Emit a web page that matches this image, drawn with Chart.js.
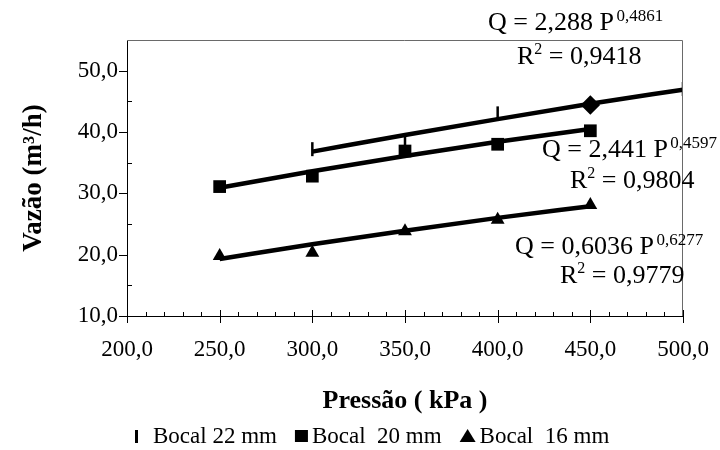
<!DOCTYPE html>
<html>
<head>
<meta charset="utf-8">
<script src="https://cdn.jsdelivr.net/npm/chart.js@4.4.1/dist/chart.umd.min.js"></script>
<style>
  html, body { margin: 0; padding: 0; background: #fff; }
  #wrap { width: 720px; height: 450px; }
</style>
</head>
<body>
<div id="wrap"><canvas id="grafico"></canvas></div>
<script>
// pontos medidos
const pressao = [250, 300, 350, 400, 450];
const pressao22 = [300, 350, 400, 450, 500];
const vazao22 = [37.2, 38.0, 43.2, 44.4, 47.0];
const vazao20 = [31.1, 32.8, 36.9, 38.0, 40.2];
const vazao16 = [19.8, 20.3, 23.8, 25.7, 28.1];
const estilo22 = ['line', 'line', 'line', 'rectRot', 'line'];

// linhas de tendencia
const ajuste22 = [36.8, 39.5, 42.1, 44.6, 46.9];
const ajuste20 = [30.9, 33.6, 36.1, 38.4, 40.5];
const ajuste16 = [19.3, 21.7, 23.9, 26.0, 27.9];

// eixos
const xTicks = [200, 250, 300, 350, 400, 450, 500];
const yTicks = [10, 20, 30, 40, 50];

// textos
const legendas = ['Bocal 22 mm', 'Bocal  20 mm', 'Bocal  16 mm'];
const equacoes = [
  {q: 'Q = 2,288 P ', exp: '0,4861', r2: ' = 0,9418'},
  {q: 'Q = 2,441 P ', exp: '0,4597', r2: ' = 0,9804'},
  {q: 'Q = 0,6036 P ', exp: '0,6277', r2: ' = 0,9779'}
];

const serif = "'Liberation Serif', 'Times New Roman', serif";
const fmt = v => v.toFixed(1).replace('.', ',');
const pts = (xs, ys) => xs.map((x, i) => ({x: x, y: ys[i]}));

// onde ficam as equacoes (em unidades do grafico)
const posEq = [
  {x: 394.8, y: 56.7, rx: 410.4, ry: 51.1},
  {x: 423.9, y: 35.85, rx: 439.0, ry: 30.8},
  {x: 409.4, y: 20.1, rx: 433.6, ry: 15.4}
];

const extras = {
  id: 'extras',
  afterDraw(chart) {
    const ctx = chart.ctx;
    const a = chart.chartArea;
    const sx = chart.scales.x, sy = chart.scales.y;
    ctx.save();
    // moldura
    ctx.strokeStyle = '#6a6a6a';
    ctx.lineWidth = 1;
    ctx.beginPath();
    ctx.moveTo(a.left, a.top + 0.5);
    ctx.lineTo(a.right - 0.5, a.top + 0.5);
    ctx.lineTo(a.right - 0.5, a.bottom);
    ctx.stroke();

    // marcas dos eixos
    ctx.strokeStyle = '#000';
    ctx.beginPath();
    for (let v = 200; v <= 500; v += 10) {
      const px = Math.round(sx.getPixelForValue(v)) + 0.5;
      if (v % 50 === 0) {
        ctx.moveTo(px, a.bottom - 6);
        ctx.lineTo(px, a.bottom + 7);
      } else {
        ctx.moveTo(px, a.bottom - 4);
        ctx.lineTo(px, a.bottom);
      }
    }
    for (let v = 10; v < 55; v += 5) {
      const py = Math.round(sy.getPixelForValue(v)) + 0.5;
      if (v % 10 === 0) {
        ctx.moveTo(a.left - 8, py);
        ctx.lineTo(a.left, py);
      } else {
        ctx.moveTo(a.left, py);
        ctx.lineTo(a.left + 5, py);
      }
    }
    ctx.stroke();

    // equacoes
    ctx.fillStyle = '#000';
    ctx.textBaseline = 'alphabetic';
    ctx.textAlign = 'left';
    equacoes.forEach((e, i) => {
      const p = posEq[i];
      let x = sx.getPixelForValue(p.x);
      let y = sy.getPixelForValue(p.y);
      ctx.font = '26px ' + serif;
      ctx.fillText(e.q, x, y);
      x += ctx.measureText(e.q).width - 4;
      ctx.font = '17px ' + serif;
      ctx.fillText(e.exp, x, y - 9);

      x = sx.getPixelForValue(p.rx);
      y = sy.getPixelForValue(p.ry);
      ctx.font = '26px ' + serif;
      ctx.fillText('R', x, y);
      x += ctx.measureText('R').width;
      ctx.font = '16px ' + serif;
      ctx.fillText('2', x, y - 10);
      x += ctx.measureText('2').width;
      ctx.font = '26px ' + serif;
      ctx.fillText(e.r2, x, y);
    });

    // legenda
    const ly = 436;
    let lx = 134;
    ctx.font = '23px ' + serif;
    ctx.textBaseline = 'middle';
    legendas.forEach((txt, i) => {
      ctx.beginPath();
      if (i === 0) {
        ctx.fillRect(lx + 1, ly - 6, 3, 13);
        lx += 19;
      } else if (i === 1) {
        ctx.fillRect(lx, ly - 6, 13, 12);
        lx += 17;
      } else {
        ctx.moveTo(lx + 8, ly - 7);
        ctx.lineTo(lx + 16, ly + 6);
        ctx.lineTo(lx, ly + 6);
        ctx.closePath();
        ctx.fill();
        lx += 20;
      }
      ctx.fillText(txt, lx, ly + 1);
      lx += ctx.measureText(txt).width + 18;
    });
    ctx.restore();
  }
};

const ctx = document.getElementById('grafico').getContext('2d');

const linha = (xs, ys) => ({
  data: pts(xs, ys),
  borderColor: '#000',
  borderWidth: 4.5,
  pointRadius: 0,
  tension: 0.3,
  cubicInterpolationMode: 'monotone',
  order: 2
});

const myChart = new Chart(ctx, {
  type: 'line',
  data: {
    datasets: [
      linha(pressao22, ajuste22),
      linha(pressao, ajuste20),
      linha(pressao, ajuste16),
      {
        label: legendas[0],
        data: pts(pressao22, vazao22),
        showLine: false,
        pointStyle: estilo22,
        pointRotation: [90, 90, 90, 0, 90],
        pointRadius: [7, 8, 6, 8, 7],
        borderColor: '#000',
        backgroundColor: '#000',
        borderWidth: 2.5,
        order: 1
      },
      {
        label: legendas[1],
        data: pts(pressao, vazao20),
        showLine: false,
        pointStyle: 'rect',
        pointRadius: 9,
        borderWidth: 0,
        backgroundColor: '#000',
        order: 1
      },
      {
        label: legendas[2],
        data: pts(pressao, vazao16),
        showLine: false,
        pointStyle: 'triangle',
        pointRadius: 8,
        borderWidth: 0,
        backgroundColor: '#000',
        order: 1
      }
    ]
  },
  options: {
    responsive: true,
    maintainAspectRatio: false,
    animation: false,
    layout: { padding: { top: 40, right: 37, left: 0, bottom: 0 } },
    plugins: {
      legend: { display: false },
      tooltip: { enabled: false }
    },
    scales: {
      x: {
        type: 'linear',
        min: 200,
        max: 500,
        afterBuildTicks: s => { s.ticks = xTicks.map(v => ({value: v})); },
        afterFit: s => { s.height = 134; s.paddingLeft = 0; s.paddingRight = 0; },
        grid: { display: false, drawTicks: false },
        border: { display: true, color: '#000', width: 1 },
        ticks: {
          color: '#000',
          padding: 20,
          maxRotation: 0,
          font: { family: serif, size: 23 },
          callback: v => fmt(v)
        },
        title: {
          display: true,
          text: 'Pressão ( kPa )',
          color: '#000',
          font: { family: serif, size: 26, weight: 'bold' },
          padding: { top: 0, bottom: 33 }
        }
      },
      y: {
        type: 'linear',
        min: 10,
        max: 55,
        afterBuildTicks: s => { s.ticks = yTicks.map(v => ({value: v})); },
        afterFit: s => { s.width = 127; s.paddingTop = 0; s.paddingBottom = 0; },
        grid: { display: false, drawTicks: false },
        border: { display: true, color: '#000', width: 1 },
        ticks: {
          color: '#000',
          padding: 9,
          font: { family: serif, size: 23 },
          callback: v => fmt(v)
        },
        title: {
          display: true,
          text: 'Vazão (m³/h)',
          color: '#000',
          font: { family: serif, size: 27, weight: 'bold' },
          padding: { top: 18, bottom: 0 }
        }
      }
    }
  },
  plugins: [extras]
});
</script>
</body>
</html>
